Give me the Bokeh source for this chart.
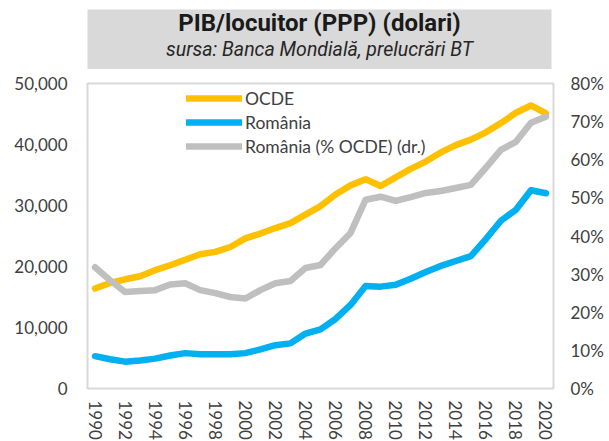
from bokeh.plotting import figure
from bokeh.models import (Range1d, LinearAxis, FixedTicker, NumeralTickFormatter,
                          PrintfTickFormatter, Legend, LegendItem, Label)
from bokeh.layouts import column
from bokeh.embed import file_html
from bokeh.resources import INLINE

# ---- data ----
years = list(range(1990, 2021))
ocde = [16400, 17300, 17900, 18400, 19400, 20200, 21100, 22000, 22400, 23200,
        24600, 25400, 26300, 27100, 28500, 29900, 31800, 33300, 34300, 33200,
        34600, 36000, 37200, 38700, 39900, 40800, 42000, 43500, 45200, 46400, 45100]
romania = [5300, 4800, 4400, 4600, 4900, 5400, 5800, 5600, 5600, 5600,
           5800, 6400, 7100, 7400, 9000, 9700, 11400, 13700, 16800, 16700,
           17000, 18000, 19100, 20100, 20900, 21700, 24500, 27500, 29300, 32500, 32000]
romania_pct = [31.8, 28.4, 25.3, 25.6, 25.8, 27.3, 27.6, 25.8, 25.0, 24.0,
               23.6, 25.8, 27.6, 28.2, 31.6, 32.4, 36.8, 40.8, 49.5, 50.3,
               49.2, 50.2, 51.3, 51.8, 52.6, 53.4, 57.9, 62.6, 64.7, 69.7, 71.3]
series_names = ["OCDE", "România", "România (% OCDE) (dr.)"]
left_ticks = [0, 10000, 20000, 30000, 40000, 50000]
right_ticks = [0, 10, 20, 30, 40, 50, 60, 70, 80]
year_ticks = list(range(1990, 2021, 2))
title_text = "PIB/locuitor (PPP) (dolari)"
subtitle_text = "sursa: Banca Mondială, prelucrări BT"

FONT = "Lato"
TXT = "#404040"

# ---- title box ----
t = figure(width=596, height=61, x_range=Range1d(0, 1), y_range=Range1d(0, 1),
           toolbar_location=None, output_backend="svg", min_border=0,
           min_border_top=1,
           x_axis_type=None, y_axis_type=None,
           background_fill_color="#D9D9D9", border_fill_color="white",
           outline_line_color=None)
t.grid.visible = False
t.add_layout(Label(x=0.5, y=0.77, text=title_text, text_align="center",
                   text_baseline="middle", text_font="Roboto", text_font_style="bold",
                   text_font_size="24px", text_color="#1a1a1a"))
t.add_layout(Label(x=0.5, y=0.33, text=subtitle_text, text_align="center",
                   text_baseline="middle", text_font="Roboto", text_font_style="italic",
                   text_font_size="19.5px", text_color="#262626"))

# ---- main chart ----
p = figure(frame_width=466, frame_height=305, x_range=Range1d(1989.5, 2020.5),
           y_range=Range1d(0, 50000), toolbar_location=None, output_backend="svg",
           min_border_left=79, min_border_right=51, min_border_top=14, min_border_bottom=52,
           y_axis_location=None, x_axis_location=None,
           outline_line_color="#D9D9D9", outline_line_width=2)
p.grid.visible = False
p.extra_y_ranges = {"pct": Range1d(0, 80)}

def style(ax, size="17px"):
    ax.axis_line_color = None
    ax.major_tick_line_color = None
    ax.minor_tick_line_color = None
    ax.major_tick_out = 0
    ax.major_tick_in = 0
    ax.minor_tick_out = 0
    ax.minor_tick_in = 0
    ax.major_label_text_font = FONT
    ax.major_label_text_font_size = size
    ax.major_label_text_color = TXT

la = LinearAxis(ticker=FixedTicker(ticks=left_ticks),
                formatter=NumeralTickFormatter(format="0,0"))
style(la)
la.major_label_standoff = 20
p.add_layout(la, "left")

ra = LinearAxis(y_range_name="pct", ticker=FixedTicker(ticks=right_ticks),
                formatter=PrintfTickFormatter(format="%d%%"))
style(ra)
ra.major_label_standoff = 17
p.add_layout(ra, "right")

ba = LinearAxis(ticker=FixedTicker(ticks=year_ticks))
style(ba, "17px")
ba.major_label_orientation = "vertical"
ba.major_label_standoff = 12
p.add_layout(ba, "below")

lw = 6.5
r1 = p.line(years, ocde, line_color="#FFC000", line_width=lw, line_cap="round", line_join="round")
r2 = p.line(years, romania, line_color="#00B0F0", line_width=lw, line_cap="round", line_join="round")
r3 = p.line(years, romania_pct, y_range_name="pct", line_color="#BFBFBF", line_width=lw,
            line_cap="round", line_join="round")

legend = Legend(items=[LegendItem(label=series_names[0], renderers=[r1]),
                       LegendItem(label=series_names[1], renderers=[r2]),
                       LegendItem(label=series_names[2], renderers=[r3])],
                location=(99, 230), orientation="vertical",
                label_text_font=FONT, label_text_font_size="17.5px", label_text_color=TXT,
                glyph_width=56, glyph_height=24, label_height=24, spacing=0, padding=0,
                margin=0, label_standoff=3, border_line_color=None,
                background_fill_alpha=0)
p.add_layout(legend)

layout = column(t, p, spacing=0,
                styles={"position": "absolute", "top": "8px", "left": "8px"})
open("out.html", "w").write(file_html(layout, INLINE))
